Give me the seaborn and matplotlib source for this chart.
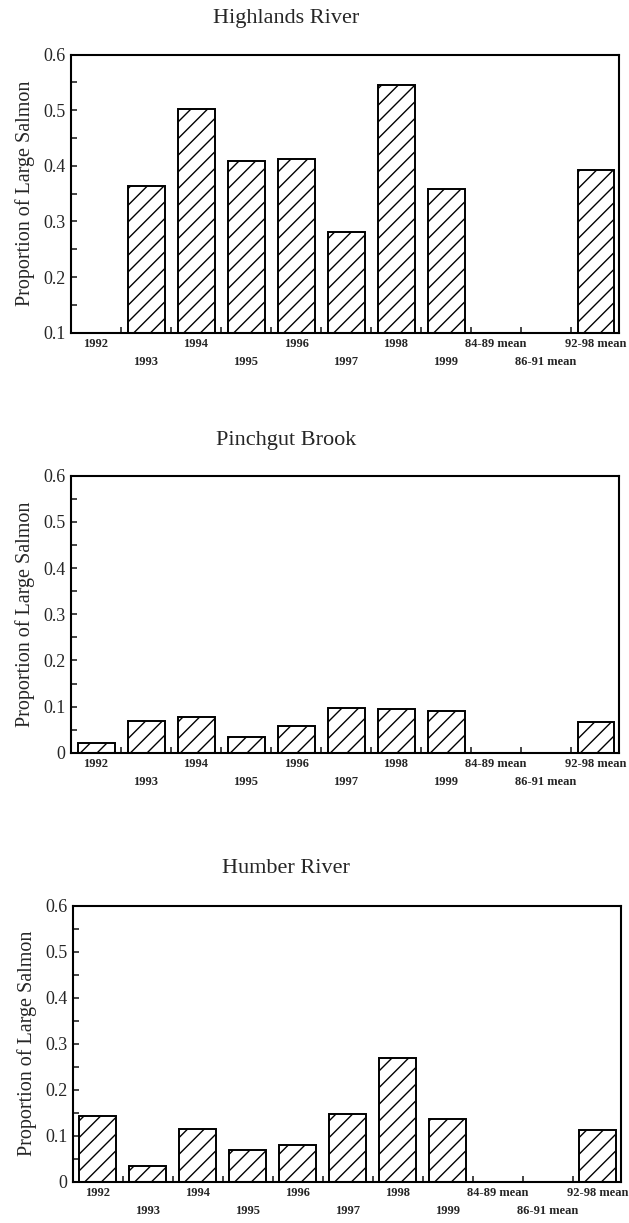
import numpy as np
import pandas as pd
import matplotlib
matplotlib.use("Agg")
import matplotlib.pyplot as plt
from matplotlib.ticker import MultipleLocator, FixedLocator
from matplotlib.transforms import ScaledTranslation
import seaborn as sns

sns.set_style("ticks")
plt.rcParams["font.family"] = ["Liberation Serif", "DejaVu Serif"]
plt.rcParams["hatch.linewidth"] = 1.0
plt.rcParams["hatch.color"] = "black"

categories = ["1992", "1993", "1994", "1995", "1996", "1997", "1998", "1999",
              "84-89 mean", "86-91 mean", "92-98 mean"]

highlands = [np.nan, 0.363, 0.503, 0.408, 0.413, 0.281, 0.545, 0.358,
             np.nan, np.nan, 0.393]
pinchgut = [0.022, 0.069, 0.077, 0.035, 0.057, 0.098, 0.094, 0.091,
            np.nan, np.nan, 0.066]
humber = [0.142, 0.033, 0.114, 0.068, 0.080, 0.146, 0.268, 0.136,
          np.nan, np.nan, 0.112]

panels = [
    # title, values, y-range, axes rect, title y
    ("Highlands River", highlands, (0.1, 0.6), [0.1129, 0.7280, 0.8712, 0.2273], 0.985),
    ("Pinchgut Brook", pinchgut, (0.0, 0.6), [0.1129, 0.3845, 0.8712, 0.2265], 0.640),
    ("Humber River", humber, (0.0, 0.6), [0.1160, 0.0338, 0.8710, 0.2257], 0.290),
]

fig = plt.figure(figsize=(6.29, 12.23), dpi=100)

for title, vals, ylim, rect, ty in panels:
    ax = fig.add_axes(rect)
    df = pd.DataFrame({"year": categories, "prop": vals})
    sns.barplot(data=df, x="year", y="prop", order=categories, color="white",
                saturation=1, edgecolor="black", linewidth=1.4, hatch="//",
                width=0.74, errorbar=None, ax=ax)

    ax.set_xlim(-0.5, 10.46)
    ax.set_ylim(*ylim)
    ax.grid(False)

    # y axis: inward ticks every 0.1 with minor at 0.05
    ax.yaxis.set_major_locator(MultipleLocator(0.1))
    ax.yaxis.set_minor_locator(MultipleLocator(0.05))
    ax.set_yticklabels(["0" if abs(t) < 1e-9 else f"{t:.1f}" for t in ax.get_yticks()])
    ax.tick_params(axis="y", which="both", direction="in", length=4, width=1.2,
                   labelsize=13, pad=4, right=False)

    # x axis: labels staggered in two rows, tick marks between bars
    ax.set_xticks(range(len(categories)))
    ax.set_xticklabels(categories, fontsize=9, fontweight="bold")
    ax.xaxis.set_minor_locator(FixedLocator(np.arange(0.5, 10, 1.0)))
    ax.tick_params(axis="x", which="major", length=0, pad=4)
    ax.tick_params(axis="x", which="minor", direction="in", length=4, width=1.2,
                   top=False)
    shift = ScaledTranslation(0, -18 / 100, fig.dpi_scale_trans)
    for i, lab in enumerate(ax.get_xticklabels()):
        if i % 2 == 1:
            lab.set_transform(lab.get_transform() + shift)

    for s in ax.spines.values():
        s.set_visible(True)
        s.set_color("black")
        s.set_linewidth(1.5)

    ax.set_xlabel("")
    ax.set_ylabel("Proportion of Large Salmon", fontsize=14.5, labelpad=6)
    fig.text(0.455, ty, title, ha="center", va="center", fontsize=16)

fig.savefig("out.png", dpi=100)
